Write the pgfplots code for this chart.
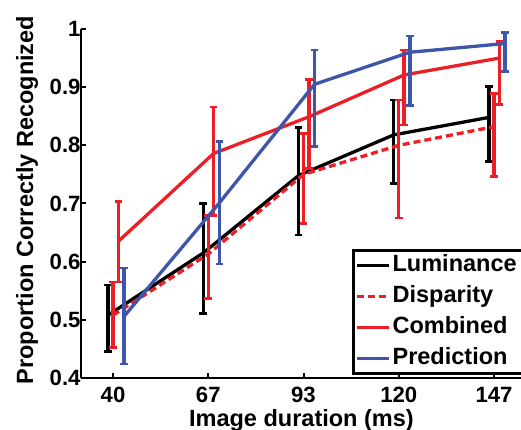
\documentclass[border=0pt]{standalone}
\usepackage{fontspec}
\setmainfont{Liberation Sans}
\usepackage{pgfplots}
\pgfplotsset{compat=1.18}
\definecolor{cred}{RGB}{236,30,38}
\definecolor{cblue}{RGB}{62,86,170}

\begin{document}
\begin{tikzpicture}
\begin{axis}[
  at={(0,0)}, anchor=south west,
  scale only axis, width=440bp, height=349bp,
  xmin=31.04, xmax=154.22, ymin=0.4, ymax=1,
  axis x line=bottom, axis y line=left,
  axis line style={-, line width=2.5bp},
  tick align=inside, major tick length=5bp,
  tick style={line width=2bp, black},
  xtick={40,66.67,93.33,120,146.67},
  xticklabels={40,67,93,120,147},
  ytick={0.4,0.5,0.6,0.7,0.8,0.9,1},
  /pgf/number format/assume math mode=true,
  tick label style={font=\bfseries\fontsize{22.2}{26}\selectfont},
  xticklabel style={anchor=base, yshift=-24bp},
  yticklabel style={xshift=3bp},
  label style={font=\bfseries\fontsize{23.6}{28}\selectfont},
  xlabel={Image duration (ms)},
  xlabel style={at={(axis description cs:0.501,0)}, anchor=base, yshift=-48bp},
  ylabel={Proportion Correctly Recognized},
  ylabel style={at={(axis description cs:-0.1227,0.51)}, anchor=center, rotate=0},
  legend style={at={(axis description cs:0.616,0.009)}, anchor=south west,
    draw=black, line width=2.5bp, fill=white,
    font=\bfseries\fontsize{23.6}{28}\selectfont,
    nodes={font=\bfseries\fontsize{23.6}{28}\selectfont,
      text height=17bp, text depth=5bp, inner sep=2bp},
    row sep=5bp, inner sep=2bp},
  legend cell align=left,
  legend image code/.code={\draw[#1] (0bp,0bp) -- (32bp,0bp);},
  every axis plot/.append style={line width=3.3bp, mark=none},
  error bars/y dir=both, error bars/y explicit,
  error bars/error bar style={line width=3.4bp, solid},
  error bars/error mark options={line width=2.8bp, mark size=3.8bp, solid, rotate=90},
]
\addplot[black] coordinates {
  (38.6,0.508) += (0,0.052) -= (0,0.063)
  (65.27,0.615) += (0,0.085) -= (0,0.104)
  (91.93,0.748) += (0,0.083) -= (0,0.102)
  (118.6,0.818) += (0,0.060) -= (0,0.083)
  (145.27,0.848) += (0,0.053) -= (0,0.076)
};
\addplot[cred, dash pattern=on 7bp off 4bp] coordinates {
  (40,0.508) += (0,0.057) -= (0,0.056)
  (66.67,0.613) += (0,0.067) -= (0,0.076)
  (93.33,0.750) += (0,0.071) -= (0,0.084)
  (120,0.800) += (0,0.078) -= (0,0.125)
  (146.67,0.832) += (0,0.057) -= (0,0.086)
};
\addplot[cred] coordinates {
  (41.5,0.635) += (0,0.068) -= (0,0.070)
  (68.17,0.786) += (0,0.080) -= (0,0.106)
  (94.83,0.849) += (0,0.064) -= (0,0.089)
  (121.5,0.921) += (0,0.043) -= (0,0.086)
  (148.17,0.950) += (0,0.029) -= (0,0.080)
};
\addplot[cblue] coordinates {
  (43.1,0.506) += (0,0.083) -= (0,0.082)
  (69.77,0.701) += (0,0.105) -= (0,0.105)
  (96.43,0.905) += (0,0.059) -= (0,0.107)
  (123.1,0.960) += (0,0.028) -= (0,0.092)
  (149.77,0.975) += (0,0.019) -= (0,0.048)
};
\legend{Luminance\hspace*{10bp}, Disparity, Combined, Prediction}
\end{axis}
\pgfresetboundingbox
\path (-81bp,-52bp) rectangle (440bp,378bp);
\end{tikzpicture}
\end{document}
